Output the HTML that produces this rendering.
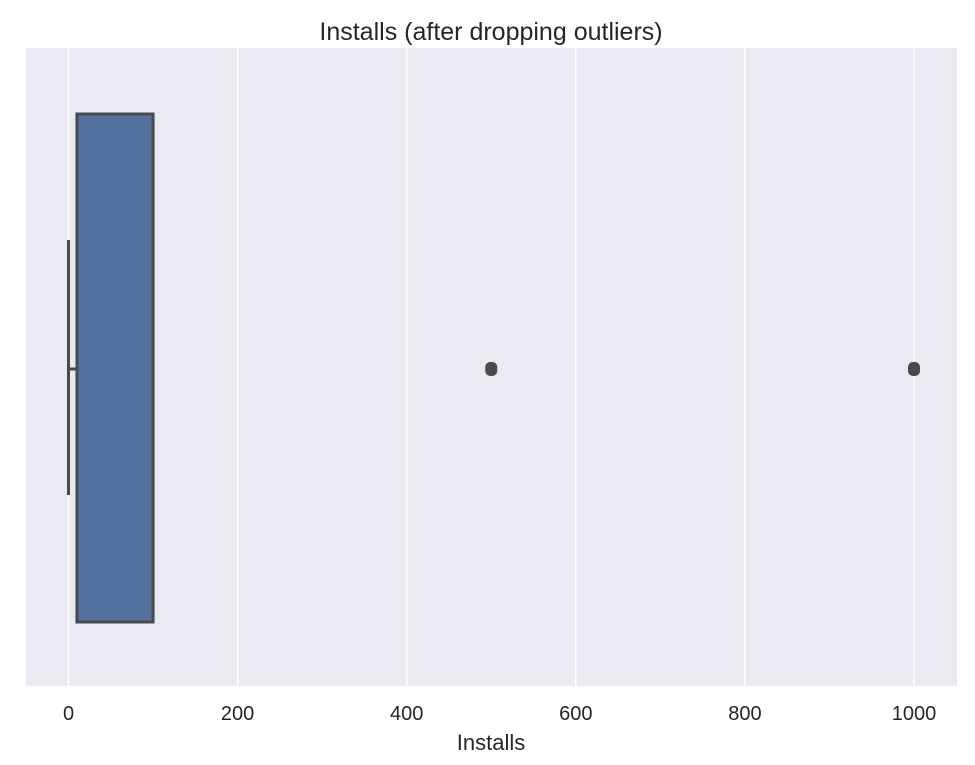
<!DOCTYPE html>
<html><head><meta charset="utf-8"><style>
body{margin:0;background:#fff;}
svg text{font-family:"Liberation Sans",sans-serif;fill:#262626;}
</style></head><body>
<svg width="975" height="760" xmlns="http://www.w3.org/2000/svg">
<rect x="26" y="48" width="931" height="638" fill="#eaeaf2"/>
<g id="grid"></g>
<g id="marks"></g>
<g id="ticks"></g>
<text x="491" y="40" font-size="25" text-anchor="middle">Installs (after dropping outliers)</text>
<text x="491" y="750" font-size="22" text-anchor="middle">Installs</text>
</svg>
<script>
const tickValues=[0,200,400,600,800,1000];
const boxStats=[0,10,100,100,100]; // min,q1,median,q3,max
const outliers=[500,1000];
const NS="http://www.w3.org/2000/svg";
const x=v=>68.5+v*(914-68.5)/1000;
const yTop=114,yBot=622,yMid=369,capTop=240,capBot=495;
function mk(t,a,p){const e=document.createElementNS(NS,t);for(const k in a)e.setAttribute(k,a[k]);p.appendChild(e);return e;}
const grid=document.getElementById('grid'),marks=document.getElementById('marks'),ticks=document.getElementById('ticks');
tickValues.forEach(v=>{
 const l=mk('line',{x1:x(v),x2:x(v),y1:48,y2:686,stroke:'#fff','stroke-width':1.5},grid);
 
 
 const t=mk('text',{x:x(v),y:720,'font-size':20,'text-anchor':'middle'},ticks);
 t.textContent=v;
 
 
});
const [mn,q1,md,q3,mx]=boxStats;
const st={stroke:'#4a4a4a','stroke-width':3,fill:'none'};
const w1=mk('line',Object.assign({x1:x(q1),x2:x(mn),y1:yMid,y2:yMid},st),marks);


const c1=mk('line',Object.assign({x1:x(mn),x2:x(mn),y1:capTop,y2:capBot},st),marks);


const w2=mk('line',Object.assign({x1:x(q3),x2:x(mx),y1:yMid,y2:yMid},st),marks);


const box=mk('rect',{x:x(q1),y:yTop,width:x(q3)-x(q1),height:yBot-yTop,fill:'#5471a0',stroke:'#4a4a4a','stroke-width':3},marks);


const med=mk('line',Object.assign({x1:x(md),x2:x(md),y1:yTop,y2:yBot},st),marks);


outliers.forEach(v=>{
 const d=mk('rect',{x:x(v)-6,y:yMid-7,width:12,height:14,rx:5,fill:'#4a4a4a'},marks);
 
 
});
</script>
</body></html>
